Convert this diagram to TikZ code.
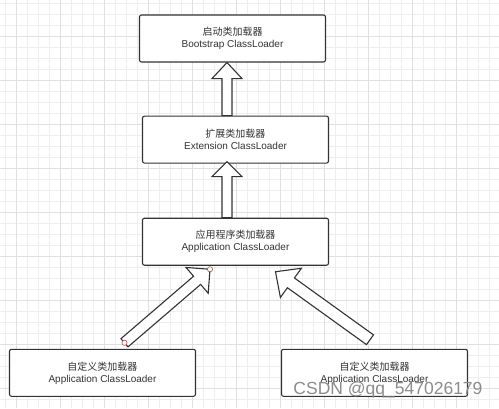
\documentclass[tikz,border=0pt]{standalone}
\usepackage{fontspec}
\setmainfont{Liberation Sans}
\newfontfamily\cjk{Noto Sans CJK SC}
\usepackage{xcolor}
\usepackage{tikz}
\usetikzlibrary{shapes,arrows,positioning,calc,arrows.meta}

\definecolor{inkgray}{HTML}{333333}
\definecolor{minorline}{HTML}{EEEEEE}
\definecolor{majorline}{HTML}{E0E0E0}
\definecolor{handle}{HTML}{C04848}
\definecolor{markgray}{HTML}{8C8C8C}

% hollow block arrow: tail, tip, shaft half width, head half width, head length
\newcommand{\fatarrow}[5]{%
  \coordinate (fa-c) at ($(#2)!#5!(#1)$);
  \draw[blockarrow] ($(#1)!#3!90:(#2)$) -- ($(fa-c)!#3!-90:(#1)$)
    -- ($(fa-c)!#4!-90:(#1)$) -- (#2) -- ($(fa-c)!#4!90:(#1)$)
    -- ($(fa-c)!#3!90:(#1)$) -- ($(#1)!#3!-90:(#2)$) -- cycle;}

\begin{document}
\begin{tikzpicture}[x=1pt, y=-1pt,
    loader/.style={draw=inkgray, line width=1.1pt, rounded corners=2pt, fill=white,
      minimum width=186pt, minimum height=47pt, inner sep=0pt, align=center,
      text=inkgray, font=\fontsize{10}{12}\selectfont},
    blockarrow/.style={draw=inkgray, line width=1.1pt, fill=white, line join=miter},
    handlemark/.style={draw=handle, fill=white, line width=0.6pt},
    watermark/.style={text=markgray, font=\fontsize{17.5}{20}\selectfont, inner sep=0pt}]
    \useasboundingbox (0,0) rectangle (499,408);
    \fill[white] (0,0) rectangle (499,408);
    % grid paper
    \foreach \gx in {5,16,...,499} \draw[minorline, line width=0.7pt] (\gx,0) -- (\gx,408);
    \foreach \gy in {3,14,...,408} \draw[minorline, line width=0.7pt] (0,\gy) -- (499,\gy);
    \foreach \gx in {16,60,...,499} \draw[majorline, line width=0.8pt] (\gx,0) -- (\gx,408);
    \foreach \gy in {36,80,...,408} \draw[majorline, line width=0.8pt] (0,\gy) -- (499,\gy);

    \node [loader] (Boot) at (232.5,38.5) {{\cjk 启动类加载器}\\Bootstrap ClassLoader};
    \node [loader, below=53pt of Boot, xshift=3pt] (Ext) {{\cjk 扩展类加载器}\\Extension ClassLoader};
    \node [loader, below=54pt of Ext] (App) {{\cjk 应用程序类加载器}\\Application ClassLoader};
    \node [loader, below=83pt of App, xshift=-133pt] (Cust1) {{\cjk 自定义类加载器}\\Application ClassLoader};
    \node [loader, below=83pt of App, xshift=139pt] (Cust2) {{\cjk 自定义类加载器}\\Application ClassLoader};

    % arrows up the hierarchy
    \coordinate (ExtTail) at ([xshift=-8.5pt]Ext.north);
    \coordinate (BootTip) at (ExtTail |- Boot.south);
    \fatarrow{ExtTail}{BootTip}{5pt}{15pt}{16pt}
    \coordinate (AppTail) at ([xshift=-8.5pt]App.north);
    \coordinate (ExtTip) at ([yshift=2pt]AppTail |- Ext.south);
    \fatarrow{AppTail}{ExtTip}{5pt}{15pt}{15pt}
    \coordinate (LeftTail) at ([xshift=22pt, yshift=6pt]Cust1.north);
    \coordinate (LeftTip) at ([xshift=-25.5pt, yshift=-3.5pt]App.south);
    \fatarrow{LeftTail}{LeftTip}{5.4pt}{17pt}{17pt}
    \coordinate (RightTail) at ([xshift=-4.5pt, yshift=9pt]Cust2.north);
    \coordinate (RightTip) at ([xshift=40pt, yshift=-6pt]App.south);
    \fatarrow{RightTail}{RightTip}{6pt}{18pt}{19pt}
    \draw [handlemark] (LeftTail) circle (2.6pt);
    \draw [handlemark] (LeftTip) circle (2.6pt);

    \node [watermark] (Mark) at (388,390) {CSDN @qq\_547026179};
\end{tikzpicture}
\end{document}
